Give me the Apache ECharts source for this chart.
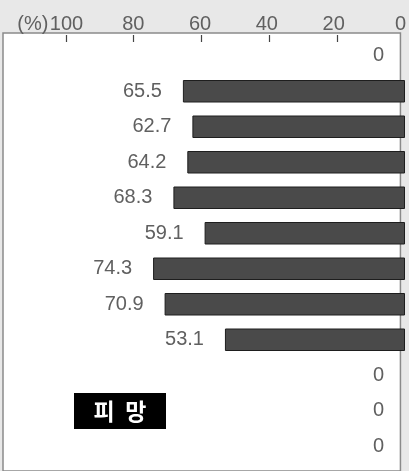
<!DOCTYPE html>
<html>
<head>
<meta charset="UTF-8">
<script src="https://cdn.jsdelivr.net/npm/echarts@6/dist/echarts.min.js"></script>
<style>
  body { margin: 0; background: #e8e8e8; overflow: hidden; }
  #chart { width: 409px; height: 471px; }
</style>
</head>
<body>
<div id="chart"></div>
<script>
// rows top → bottom
const rows = ['1', '2', '3', '4', '5', '6', '7', '8', '9', '10', '11', '12']
const values = [0, 65.5, 62.7, 64.2, 68.3, 59.1, 74.3, 70.9, 53.1, 0, 0, 0]
const tickValues = [0, 20, 40, 60, 80, 100]
const unitLabel = '(%)'
const panelLabel = '피  망'

const TEXT_FONT = '"Liberation Sans", "Noto Sans CJK KR", sans-serif'
const TEXT_COLOR = '#606060'

const chart = echarts.init(document.getElementById('chart'))
chart.setOption({
  backgroundColor: '#e8e8e8',
  animation: false,
  grid: [
    // frame
    { left: 1.5, right: 4, top: 33, bottom: -10, show: true, backgroundColor: '#fff', borderColor: '#8a8a8a', borderWidth: 1.5 },
    // bars
    { left: 1.5, right: 4, top: 38, height: 426 },
    // tick strip under the top axis
    { left: 1.5, right: 4, top: 35, height: 7 }
  ],
  xAxis: [
    {
      gridIndex: 0,
      type: 'value',
      position: 'top',
      inverse: true,
      min: 0,
      max: 119,
      interval: 20,
      splitLine: { show: false },
      axisLine: { show: false },
      axisTick: { show: false },
      axisLabel: {
        margin: -1,
        fontSize: 20,
        fontFamily: TEXT_FONT,
        color: TEXT_COLOR,
        formatter: v => {
          if (!tickValues.includes(v)) return ''
          return v === 100 ? `{p|${unitLabel}}100{q|}` : String(v)
        },
        rich: {
          p: { fontSize: 20, fontFamily: TEXT_FONT, color: TEXT_COLOR, width: 34 },
          q: { width: 34 }
        }
      }
    },
    {
      gridIndex: 1,
      type: 'value',
      inverse: true,
      min: 0,
      max: 119,
      show: false
    },
    {
      gridIndex: 2,
      type: 'value',
      inverse: true,
      min: 0,
      max: 119,
      interval: 20,
      z: 20,
      axisLine: { show: false },
      axisTick: { show: false },
      axisLabel: { show: false },
      splitLine: { show: true, showMinLine: false, showMaxLine: false, lineStyle: { color: '#444', width: 1.2 } }
    }
  ],
  yAxis: [
    { gridIndex: 0, type: 'value', show: false },
    { gridIndex: 1, type: 'category', data: rows, inverse: true, show: false },
    { gridIndex: 2, type: 'value', show: false }
  ],
  series: [{
    type: 'bar',
    xAxisIndex: 1,
    yAxisIndex: 1,
    data: values.map(v => ({ value: v, itemStyle: { borderWidth: v ? 1 : 0 } })),
    barWidth: 22.5,
    itemStyle: { color: '#4a4a4a', borderColor: '#1e1e1e' },
    label: {
      show: true,
      position: 'left',
      distance: 21,
      fontSize: 20,
      fontFamily: TEXT_FONT,
      color: TEXT_COLOR
    }
  }],
  graphic: [{
    type: 'group',
    left: 74,
    top: 393,
    children: [
      { type: 'rect', shape: { x: 0, y: 0, width: 92, height: 36 }, style: { fill: '#000' } },
      {
        type: 'text',
        x: 46,
        y: 18,
        style: {
          text: panelLabel,
          fill: '#fff',
          font: 'bold 23px "Noto Sans CJK KR", sans-serif',
          align: 'center',
          verticalAlign: 'middle'
        }
      }
    ]
  }]
})
</script>
</body>
</html>
